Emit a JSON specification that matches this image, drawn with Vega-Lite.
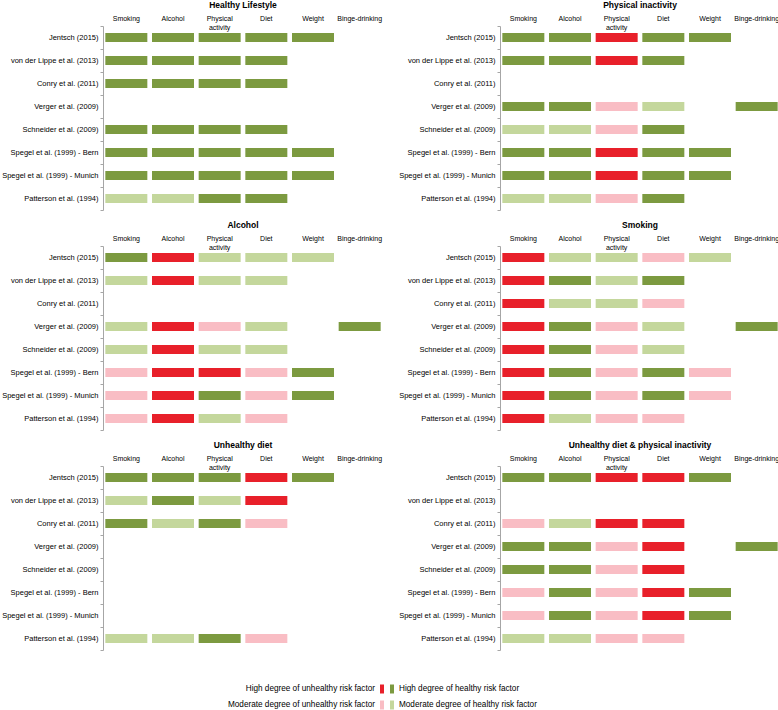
{
  "$schema": "https://vega.github.io/schema/vega-lite/v6.json",
  "padding": {"left": 1, "top": 1, "right": 0, "bottom": 0},
  "config": {
    "font": "Liberation Sans",
    "view": {"stroke": null},
    "axis": {"labelFont": "Liberation Sans"},
    "header": {"labelFont": "Liberation Sans"}
  },
  "spacing": 30,
  "vconcat": [
    {
      "data": {"values": [
        {"p":"Healthy Lifestyle","s":"Jentsch (2015)","Smoking":"HG","Alcohol":"HG","Physical activity":"HG","Diet":"HG","Weight":"HG"},
        {"p":"Healthy Lifestyle","s":"von der Lippe et al. (2013)","Smoking":"HG","Alcohol":"HG","Physical activity":"HG","Diet":"HG"},
        {"p":"Healthy Lifestyle","s":"Conry et al. (2011)","Smoking":"HG","Alcohol":"HG","Physical activity":"HG","Diet":"HG"},
        {"p":"Healthy Lifestyle","s":"Schneider et al. (2009)","Smoking":"HG","Alcohol":"HG","Physical activity":"HG","Diet":"HG"},
        {"p":"Healthy Lifestyle","s":"Spegel et al. (1999) - Bern","Smoking":"HG","Alcohol":"HG","Physical activity":"HG","Diet":"HG","Weight":"HG"},
        {"p":"Healthy Lifestyle","s":"Spegel et al. (1999) - Munich","Smoking":"HG","Alcohol":"HG","Physical activity":"HG","Diet":"HG","Weight":"HG"},
        {"p":"Healthy Lifestyle","s":"Patterson et al. (1994)","Smoking":"MG","Alcohol":"MG","Physical activity":"HG","Diet":"HG"},

        {"p":"Physical inactivity","s":"Jentsch (2015)","Smoking":"HG","Alcohol":"HG","Physical activity":"HR","Diet":"HG","Weight":"HG"},
        {"p":"Physical inactivity","s":"von der Lippe et al. (2013)","Smoking":"HG","Alcohol":"HG","Physical activity":"HR","Diet":"HG"},
        {"p":"Physical inactivity","s":"Verger et al. (2009)","Smoking":"HG","Alcohol":"HG","Physical activity":"MR","Diet":"MG","Binge-drinking":"HG"},
        {"p":"Physical inactivity","s":"Schneider et al. (2009)","Smoking":"MG","Alcohol":"MG","Physical activity":"MR","Diet":"HG"},
        {"p":"Physical inactivity","s":"Spegel et al. (1999) - Bern","Smoking":"HG","Alcohol":"HG","Physical activity":"HR","Diet":"HG","Weight":"HG"},
        {"p":"Physical inactivity","s":"Spegel et al. (1999) - Munich","Smoking":"HG","Alcohol":"HG","Physical activity":"HR","Diet":"HG","Weight":"HG"},
        {"p":"Physical inactivity","s":"Patterson et al. (1994)","Smoking":"MG","Alcohol":"MG","Physical activity":"MR","Diet":"HG"},

        {"p":"Alcohol","s":"Jentsch (2015)","Smoking":"HG","Alcohol":"HR","Physical activity":"MG","Diet":"MG","Weight":"MG"},
        {"p":"Alcohol","s":"von der Lippe et al. (2013)","Smoking":"MG","Alcohol":"HR","Physical activity":"MG","Diet":"MG"},
        {"p":"Alcohol","s":"Verger et al. (2009)","Smoking":"MG","Alcohol":"HR","Physical activity":"MR","Diet":"MG","Binge-drinking":"HG"},
        {"p":"Alcohol","s":"Schneider et al. (2009)","Smoking":"MG","Alcohol":"HR","Physical activity":"MG","Diet":"MG"},
        {"p":"Alcohol","s":"Spegel et al. (1999) - Bern","Smoking":"MR","Alcohol":"HR","Physical activity":"HR","Diet":"MR","Weight":"HG"},
        {"p":"Alcohol","s":"Spegel et al. (1999) - Munich","Smoking":"MR","Alcohol":"HR","Physical activity":"HG","Diet":"MR","Weight":"HG"},
        {"p":"Alcohol","s":"Patterson et al. (1994)","Smoking":"MR","Alcohol":"HR","Physical activity":"MG","Diet":"MR"},

        {"p":"Smoking","s":"Jentsch (2015)","Smoking":"HR","Alcohol":"MG","Physical activity":"MG","Diet":"MR","Weight":"MG"},
        {"p":"Smoking","s":"von der Lippe et al. (2013)","Smoking":"HR","Alcohol":"HG","Physical activity":"MG","Diet":"HG"},
        {"p":"Smoking","s":"Conry et al. (2011)","Smoking":"HR","Alcohol":"MG","Physical activity":"MG","Diet":"MR"},
        {"p":"Smoking","s":"Verger et al. (2009)","Smoking":"HR","Alcohol":"HG","Physical activity":"MR","Diet":"MG","Binge-drinking":"HG"},
        {"p":"Smoking","s":"Schneider et al. (2009)","Smoking":"HR","Alcohol":"HG","Physical activity":"MR","Diet":"MG"},
        {"p":"Smoking","s":"Spegel et al. (1999) - Bern","Smoking":"HR","Alcohol":"HG","Physical activity":"MR","Diet":"HG","Weight":"MR"},
        {"p":"Smoking","s":"Spegel et al. (1999) - Munich","Smoking":"HR","Alcohol":"HG","Physical activity":"MR","Diet":"HG","Weight":"MR"},
        {"p":"Smoking","s":"Patterson et al. (1994)","Smoking":"HR","Alcohol":"MG","Physical activity":"MR","Diet":"MR"},

        {"p":"Unhealthy diet","s":"Jentsch (2015)","Smoking":"HG","Alcohol":"HG","Physical activity":"HG","Diet":"HR","Weight":"HG"},
        {"p":"Unhealthy diet","s":"von der Lippe et al. (2013)","Smoking":"MG","Alcohol":"HG","Physical activity":"MG","Diet":"HR"},
        {"p":"Unhealthy diet","s":"Conry et al. (2011)","Smoking":"HG","Alcohol":"MG","Physical activity":"HG","Diet":"MR"},
        {"p":"Unhealthy diet","s":"Patterson et al. (1994)","Smoking":"MG","Alcohol":"MG","Physical activity":"HG","Diet":"MR"},

        {"p":"Unhealthy diet & physical inactivity","s":"Jentsch (2015)","Smoking":"HG","Alcohol":"HG","Physical activity":"HR","Diet":"HR","Weight":"HG"},
        {"p":"Unhealthy diet & physical inactivity","s":"Conry et al. (2011)","Smoking":"MR","Alcohol":"MG","Physical activity":"HR","Diet":"HR"},
        {"p":"Unhealthy diet & physical inactivity","s":"Verger et al. (2009)","Smoking":"HG","Alcohol":"HG","Physical activity":"MR","Diet":"HR","Binge-drinking":"HG"},
        {"p":"Unhealthy diet & physical inactivity","s":"Schneider et al. (2009)","Smoking":"HG","Alcohol":"HG","Physical activity":"MR","Diet":"HR"},
        {"p":"Unhealthy diet & physical inactivity","s":"Spegel et al. (1999) - Bern","Smoking":"MR","Alcohol":"HG","Physical activity":"MR","Diet":"HR","Weight":"HG"},
        {"p":"Unhealthy diet & physical inactivity","s":"Spegel et al. (1999) - Munich","Smoking":"MR","Alcohol":"HG","Physical activity":"MR","Diet":"HR","Weight":"HG"},
        {"p":"Unhealthy diet & physical inactivity","s":"Patterson et al. (1994)","Smoking":"MG","Alcohol":"MG","Physical activity":"MR","Diet":"MR"}
      ]},
      "transform": [
        {"fold": ["Smoking","Alcohol","Physical activity","Diet","Weight","Binge-drinking"], "as": ["f","c"]},
        {"filter": "isValid(datum.c)"}
      ],
      "facet": {
        "field": "p", "type": "nominal",
        "sort": ["Healthy Lifestyle","Physical inactivity","Alcohol","Smoking","Unhealthy diet","Unhealthy diet & physical inactivity"],
        "header": {"title": null, "labelFontSize": 8.5, "labelFontWeight": "bold", "labelColor": "#000", "labelPadding": 5}
      },
      "columns": 2,
      "spacing": {"row": 10, "column": 15},
      "resolve": {"axis": {"x": "independent", "y": "independent"}},
      "spec": {
        "width": 280,
        "height": 184,
        "mark": {"type": "rect", "width": {"band": 0.9}, "height": {"band": 0.4}},
        "encoding": {
          "x": {
            "field": "f", "type": "nominal",
            "scale": {"domain": ["Smoking","Alcohol","Physical activity","Diet","Weight","Binge-drinking"], "paddingInner": 0, "paddingOuter": 0},
            "axis": {"orient": "top", "title": null, "domain": false, "ticks": false, "tickSize": 0, "labelPadding": 7.5, "labelAngle": 0, "labelBaseline": "middle", "labelFontSize": 7, "labelColor": "#000", "labelLineHeight": 8.5, "labelExpr": "datum.value == 'Physical activity' ? ['Physical','activity'] : datum.value"}
          },
          "y": {
            "field": "s", "type": "nominal",
            "scale": {"domain": ["Jentsch (2015)","von der Lippe et al. (2013)","Conry et al. (2011)","Verger et al. (2009)","Schneider et al. (2009)","Spegel et al. (1999) - Bern","Spegel et al. (1999) - Munich","Patterson et al. (1994)"], "paddingInner": 0, "paddingOuter": 0},
            "axis": {"title": null, "domainColor": "#a6a6a6", "tickColor": "#a6a6a6", "tickSize": 3, "tickBand": "extent", "labelPadding": 2, "labelFontSize": 7.5, "labelColor": "#000", "labelLimit": 200}
          },
          "color": {
            "field": "c", "type": "nominal",
            "scale": {"domain": ["HR","HG","MR","MG"], "range": ["#E8202A","#7C9A40","#F9BDC4","#C4D79C"]},
            "legend": null
          }
        }
      }
    },
    {
      "width": 560,
      "height": 32,
      "data": {"values": [
        {"side":"unhealthy","lvl":"High","c":"HR","t":"High degree of unhealthy risk factor"},
        {"side":"healthy","lvl":"High","c":"HG","t":"High degree of healthy risk factor"},
        {"side":"unhealthy","lvl":"Moderate","c":"MR","t":"Moderate degree of unhealthy risk factor"},
        {"side":"healthy","lvl":"Moderate","c":"MG","t":"Moderate degree of healthy risk factor"}
      ]},
      "encoding": {
        "x": {"field": "side", "type": "nominal", "scale": {"domain": ["unhealthy","healthy"], "range": [274, 294], "paddingInner": 0, "paddingOuter": 0}, "axis": null},
        "y": {"field": "lvl", "type": "nominal", "scale": {"domain": ["High","Moderate"], "paddingInner": 0, "paddingOuter": 0}, "axis": null}
      },
      "layer": [
        {
          "mark": {"type": "rect", "width": 4, "height": 9},
          "encoding": {"color": {"field": "c", "type": "nominal", "scale": {"domain": ["HR","HG","MR","MG"], "range": ["#E8202A","#7C9A40","#F9BDC4","#C4D79C"]}, "legend": null}}
        },
        {
          "transform": [{"filter": "datum.side == 'unhealthy'"}],
          "mark": {"type": "text", "align": "right", "dx": -7, "fontSize": 8.2, "color": "#000"},
          "encoding": {"text": {"field": "t"}}
        },
        {
          "transform": [{"filter": "datum.side == 'healthy'"}],
          "mark": {"type": "text", "align": "left", "dx": 7, "fontSize": 8.2, "color": "#000"},
          "encoding": {"text": {"field": "t"}}
        }
      ]
    }
  ]
}
